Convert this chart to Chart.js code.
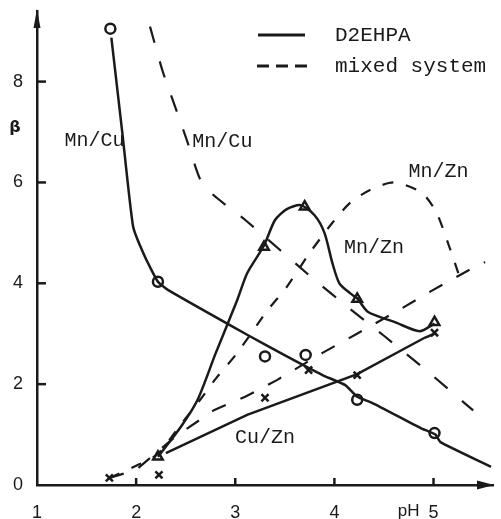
<!DOCTYPE html>
<html>
<head>
<meta charset="utf-8">
<script src="https://cdn.jsdelivr.net/npm/chart.js@4.4.0/dist/chart.umd.min.js"></script>
<style>
  html, body { margin:0; padding:0; background:#fff; }
</style>
</head>
<body>
<canvas id="chart" width="501" height="519"></canvas>
<script>
// -- tick values
const xTicks = [1, 2, 3, 4, 5];
const yTicks = [0, 2, 4, 6, 8];

// -- D2EHPA curves (solid), [pH, beta]
const mnCuSolid = [[1.75,8.87],[1.86,7.0],[1.97,5.12],[2.09,4.52],[2.22,4.03],[2.32,3.87],[3.12,2.98],[3.53,2.54],[3.88,2.18],[4.11,1.98],[4.23,1.75],[4.38,1.63],[4.87,1.13],[5.02,1.0],[5.07,0.85],[5.58,0.36]];
const mnZnSolid = [[2.22,0.56],[2.45,1.15],[2.62,1.69],[2.8,2.6],[3.02,3.67],[3.12,4.2],[3.29,4.75],[3.4,5.25],[3.52,5.47],[3.66,5.55],[3.8,5.35],[3.9,5.0],[3.98,4.4],[4.05,4.0],[4.16,3.8],[4.23,3.7],[4.34,3.43],[4.61,3.23],[4.86,3.05],[5.01,3.2]];
const cuZnSolid = [[2.3,0.63],[3.12,1.39],[4.23,2.2],[4.91,2.92],[5.01,3.0]];

// -- mixed system curves (dashed)
const mnCuMixed = [[2.14,9.09],[2.27,8.19],[2.43,7.3],[2.52,6.79],[2.64,6.09],[2.78,5.75],[3.11,5.24],[3.81,4.05],[4.16,3.49],[4.5,2.96],[4.96,2.22],[5.31,1.63],[5.4,1.48]];
const mnZnMixed = [[1.73,0.14],[2.0,0.38],[2.22,0.62],[2.45,1.2],[2.65,1.7],[2.8,2.1],[3.02,2.62],[3.32,3.45],[3.52,3.93],[3.75,4.6],[3.98,5.2],[4.16,5.6],[4.36,5.85],[4.6,6.0],[4.88,5.8],[5.03,5.4],[5.16,4.72],[5.25,4.2]];
const cuZnMixed = [[1.73,0.14],[2.0,0.3],[2.39,0.95],[2.79,1.49],[3.1,1.75],[3.42,2.08],[3.88,2.62],[4.21,2.98],[4.67,3.49],[4.98,3.85],[5.42,4.33],[5.52,4.42]];

// -- measured points
const circlePts   = [[1.74,9.05],[2.22,4.03],[3.30,2.55],[3.71,2.58],[4.23,1.69],[5.01,1.03]];
const trianglePts = [[2.22,0.56],[3.29,4.72],[3.70,5.52],[4.23,3.69],[5.01,3.23]];
const crossPts    = [[1.73,0.14],[2.23,0.2],[3.30,1.73],[3.74,2.28],[4.23,2.18],[5.01,3.02]];

// -- curve labels
const curveLabels = ["Mn/Cu", "Mn/Cu", "Mn/Zn", "Mn/Zn", "Cu/Zn"];
const curveLabelX = [1.58, 2.87, 5.05, 4.40, 3.30];
const curveLabelY = [6.83, 6.80, 6.21, 4.70, 0.93];

const legendNames = ["D2EHPA", "mixed system"];

const ink = "#1a1a1a";
const mono = "'Liberation Mono', 'DejaVu Sans Mono', monospace";

const pts = a => a.map(p => ({ x:p[0], y:p[1] }));

function lineSet(arr, dash, w, t) {
  return { data:pts(arr), showLine:true, borderColor:ink, borderWidth:w, borderDash:dash,
           pointRadius:0, tension:t, fill:false };
}
function markSet(arr, style, r) {
  return { data:pts(arr), showLine:false, pointStyle:style, pointRadius:r,
           pointBorderColor:ink, pointBackgroundColor:'rgba(0,0,0,0)', pointBorderWidth:2.5 };
}

// -- extra drawing: inner ticks, arrows, labels, legend
const decor = {
  id:'decor',
  afterDatasetsDraw(chart) {
    const {ctx, chartArea:a, scales:{x, y}} = chart;
    ctx.save();
    ctx.strokeStyle = ink; ctx.fillStyle = ink; ctx.lineWidth = 2.5;
    // inner ticks
    yTicks.forEach(v => { if (v>0) { let py=y.getPixelForValue(v); ctx.beginPath(); ctx.moveTo(a.left,py); ctx.lineTo(a.left+9,py); ctx.stroke(); } });
    xTicks.forEach(v => { if (v>1) { let px=x.getPixelForValue(v); ctx.beginPath(); ctx.moveTo(px,a.bottom); ctx.lineTo(px,a.bottom-7); ctx.stroke(); } });
    // arrows
    ctx.beginPath(); ctx.moveTo(a.left,a.top-2); ctx.lineTo(a.left-3.5,a.top+17); ctx.lineTo(a.left+3.5,a.top+17); ctx.closePath(); ctx.fill();
    ctx.beginPath(); ctx.moveTo(a.right+1,a.bottom); ctx.lineTo(a.right-16,a.bottom-4.5); ctx.lineTo(a.right-16,a.bottom+4.5); ctx.closePath(); ctx.fill();
    // axis names
    ctx.font = "17px 'Liberation Sans', sans-serif";
    ctx.textAlign = 'center'; ctx.textBaseline = 'middle';
    ctx.fillText("pH", x.getPixelForValue(4.75), a.bottom+26);
    ctx.font = "bold 16px 'DejaVu Sans', sans-serif";
    ctx.fillText("\u03B2", 15, y.getPixelForValue(7.08));
    // curve labels
    ctx.font = "20px " + mono;
    curveLabels.forEach((t,i) => ctx.fillText(t, x.getPixelForValue(curveLabelX[i]), y.getPixelForValue(curveLabelY[i])));
    // legend
    ctx.textAlign = 'left';
    ctx.font = "21px " + mono;
    ctx.lineWidth = 3;
    ctx.beginPath(); ctx.moveTo(258,35); ctx.lineTo(305,35); ctx.stroke();
    ctx.setLineDash([12,7]);
    ctx.beginPath(); ctx.moveTo(257,66); ctx.lineTo(308,66); ctx.stroke();
    ctx.setLineDash([]);
    ctx.fillText(legendNames[0], 335, 35);
    ctx.fillText(legendNames[1], 335, 66);
    ctx.restore();
  }
};

new Chart(document.getElementById('chart'), {
  type:'scatter',
  data:{ datasets:[
    lineSet(mnCuSolid, [], 2.5, 0.15),
    lineSet(mnZnSolid, [], 2.5, 0.25),
    lineSet(cuZnSolid, [], 2.5, 0),
    lineSet(mnCuMixed, [17,19], 2.2, 0.2),
    lineSet(mnZnMixed, [11,13], 2.2, 0.25),
    lineSet(cuZnMixed, [15,16], 2.2, 0),
    markSet(circlePts, 'circle', 5),
    markSet(trianglePts, 'triangle', 5.5),
    markSet(crossPts, 'crossRot', 5)
  ]},
  options:{
    responsive:false, devicePixelRatio:1, animation:false,
    layout:{ padding:{ top:11, right:1, left:0, bottom:0 } },
    plugins:{ legend:{display:false}, tooltip:{enabled:false} },
    scales:{
      x:{ type:'linear', min:1, max:5.6,
          afterFit:s => { s.height = 34; s.paddingLeft = 0; s.paddingRight = 0; },
          afterBuildTicks:s => { s.ticks = xTicks.map(v => ({value:v})); },
          grid:{ display:false, drawTicks:false },
          border:{ display:true, color:ink, width:2.5 },
          ticks:{ padding:17, color:ink, font:{ family:'Liberation Sans', size:18 } } },
      y:{ type:'linear', min:0, max:9.4,
          afterFit:s => { s.width = 37; s.paddingTop = 0; s.paddingBottom = 0; },
          afterBuildTicks:s => { s.ticks = yTicks.map(v => ({value:v})); },
          grid:{ display:false, drawTicks:false },
          border:{ display:true, color:ink, width:2.5 },
          ticks:{ padding:14, color:ink, font:{ family:'Liberation Sans', size:18 } } }
    }
  },
  plugins:[decor]
});
</script>
</body>
</html>
